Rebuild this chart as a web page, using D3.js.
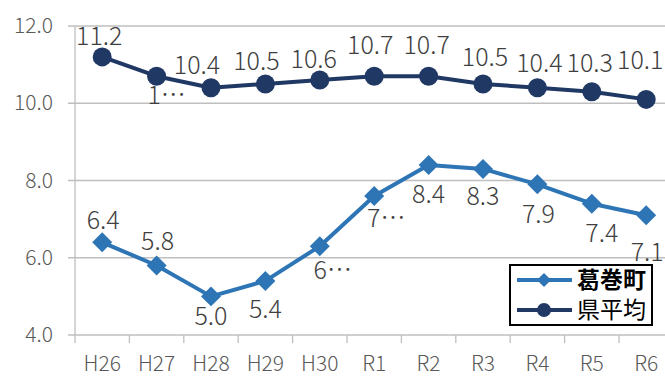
<!DOCTYPE html>
<html>
<head>
<meta charset="utf-8">
<script src="https://cdn.jsdelivr.net/npm/d3@7"></script>
<style>
  html, body { margin: 0; padding: 0; background: #fff; }
  svg { display: block; font-family: "Noto Sans CJK JP", "Noto Sans", sans-serif; }
  .light { font-weight: 300; }
</style>
</head>
<body>
<svg id="chart" width="665" height="376"></svg>
<script>
// Fiscal years
const years = ["H26", "H27", "H28", "H29", "H30", "R1", "R2", "R3", "R4", "R5", "R6"];
// 葛巻町
const kuzumakiValues = [6.4, 5.8, 5.0, 5.4, 6.3, 7.6, 8.4, 8.3, 7.9, 7.4, 7.1];
// 県平均
const prefAvgValues = [11.2, 10.7, 10.4, 10.5, 10.6, 10.7, 10.7, 10.5, 10.4, 10.3, 10.1];
const yTicks = [4.0, 6.0, 8.0, 10.0, 12.0];
const seriesNames = ["葛巻町", "県平均"];

// Label placement (offset of the label centre from its point) and truncation
const kuzumakiLabelOffset = [[1, -22], [1, -24], [0, 20], [0, 28], [13, 24], [12, 22], [0, 29], [0, 27], [1, 30], [10, 29], [1, 37]];
const kuzumakiTruncated = [false, false, false, false, true, true, false, false, false, false, false];
const prefLabelOffset = [[-3, -21], [10, 19], [-14, -23], [-9, -23], [-6, -21], [-4, -31], [-2, -31], [2, -27], [2, -25], [-2, -29], [-6, -39]];
const prefTruncated = [false, true, false, false, false, false, false, false, false, false, false];

const svg = d3.select("#chart");
const plotLeft = 75, plotTop = 26, plotBottom = 335, bandW = 54.4;
const plotRight = plotLeft + bandW * years.length;

const x = d3.scaleBand().domain(years).range([plotLeft, plotRight]).paddingInner(0).paddingOuter(0);
const y = d3.scaleLinear().domain([4, 12]).range([plotBottom, plotTop]);
const cx = d => x(d) + x.bandwidth() / 2;

const gridColor = "#bfbfbf";
const textColor = "#595959";

// Horizontal gridlines with short ticks left of the axis
svg.append("g").selectAll("line").data(yTicks).join("line")
  .attr("x1", plotLeft - 7).attr("x2", 665)
  .attr("y1", d => y(d)).attr("y2", d => y(d))
  .attr("stroke", gridColor).attr("stroke-width", 1.3);

// Y axis line
svg.append("line").attr("x1", plotLeft).attr("x2", plotLeft).attr("y1", plotTop).attr("y2", plotBottom + 8)
  .attr("stroke", gridColor).attr("stroke-width", 1.3);

// X axis tick marks between categories
svg.append("g").selectAll("line").data(years.slice(1)).join("line")
  .attr("x1", d => x(d)).attr("x2", d => x(d))
  .attr("y1", plotBottom).attr("y2", plotBottom + 8)
  .attr("stroke", gridColor).attr("stroke-width", 1.3);

// Y tick labels
svg.append("g").attr("class", "light").selectAll("text").data(yTicks).join("text")
  .attr("x", 53).attr("y", d => y(d) + 7)
  .attr("text-anchor", "end")
  .attr("font-size", 21).attr("fill", textColor)
  .text(d => d.toFixed(1));

// X tick labels
svg.append("g").attr("class", "light").selectAll("text").data(years).join("text")
  .attr("x", d => cx(d)).attr("y", 371)
  .attr("text-anchor", "middle")
  .attr("font-size", 21).attr("fill", textColor)
  .text(d => d);

const colors = { kuzumaki: "#2e75b6", pref: "#203864" };

const line = d3.line().x((d, i) => cx(years[i])).y(d => y(d));

// 県平均 series
svg.append("path").datum(prefAvgValues)
  .attr("d", line).attr("fill", "none")
  .attr("stroke", colors.pref).attr("stroke-width", 4).attr("stroke-linejoin", "round");
svg.append("g").selectAll("circle").data(prefAvgValues).join("circle")
  .attr("cx", (d, i) => cx(years[i])).attr("cy", d => y(d)).attr("r", 9.5)
  .attr("fill", colors.pref);

// 葛巻町 series
svg.append("path").datum(kuzumakiValues)
  .attr("d", line).attr("fill", "none")
  .attr("stroke", colors.kuzumaki).attr("stroke-width", 4).attr("stroke-linejoin", "round");
svg.append("g").selectAll("path").data(kuzumakiValues).join("path")
  .attr("d", d3.symbol().type(d3.symbolSquare).size(200))
  .attr("transform", (d, i) => `translate(${cx(years[i])},${y(d)}) rotate(45)`)
  .attr("fill", colors.kuzumaki);

// Data labels
function labels(values, offsets, truncated) {
  svg.append("g").attr("class", "light").selectAll("text").data(values).join("text")
    .attr("x", (d, i) => cx(years[i]) + offsets[i][0])
    .attr("y", (d, i) => y(d) + offsets[i][1] + 9)
    .attr("text-anchor", "middle")
    .attr("font-size", 25).attr("fill", "#404040")
    .text((d, i) => truncated[i] ? d.toFixed(1)[0] + "…" : d.toFixed(1));
}
labels(prefAvgValues, prefLabelOffset, prefTruncated);
labels(kuzumakiValues, kuzumakiLabelOffset, kuzumakiTruncated);

// Legend
const lg = svg.append("g").attr("transform", "translate(510,265)");
lg.append("rect").attr("width", 142).attr("height", 60)
  .attr("fill", "#fff").attr("stroke", "#000").attr("stroke-width", 2);
const rows = [
  { name: seriesNames[0], color: colors.kuzumaki, marker: "diamond", weight: "bold" },
  { name: seriesNames[1], color: colors.pref, marker: "circle", weight: "normal" }
];
rows.forEach((r, i) => {
  const ry = 15 + i * 30;
  lg.append("line").attr("x1", 7).attr("x2", 62).attr("y1", ry).attr("y2", ry)
    .attr("stroke", r.color).attr("stroke-width", 4);
  if (r.marker === "diamond") {
    lg.append("path").attr("d", d3.symbol().type(d3.symbolSquare).size(100))
      .attr("transform", `translate(34,${ry}) rotate(45)`).attr("fill", r.color);
  } else {
    lg.append("circle").attr("cx", 34).attr("cy", ry).attr("r", 7).attr("fill", r.color);
  }
  lg.append("text").attr("x", 67).attr("y", ry + 8)
    .attr("font-size", 23).attr("font-weight", r.weight).attr("fill", "#000")
    .text(r.name);
});
</script>
</body>
</html>
